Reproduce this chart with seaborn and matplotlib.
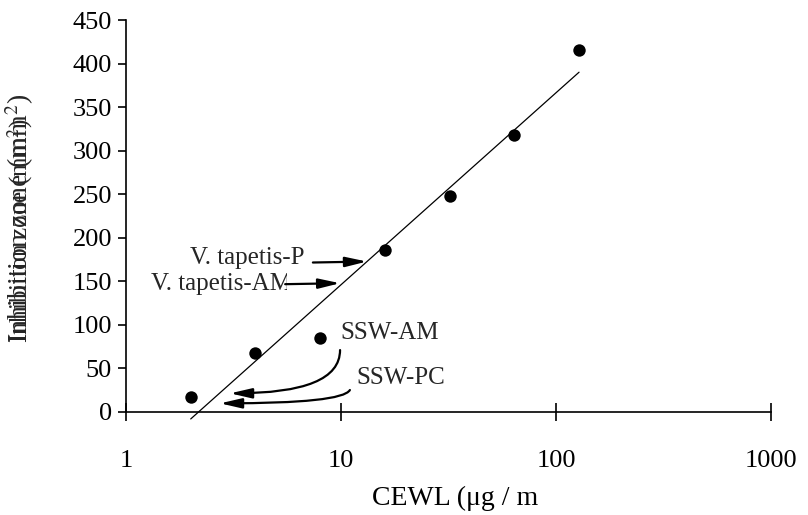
import numpy as np
import matplotlib
matplotlib.use("Agg")
import matplotlib.pyplot as plt
import seaborn as sns
from matplotlib.transforms import Bbox

# data
cewl = [2, 4, 8, 16, 32, 64, 128]
zone = [17, 67, 85, 186, 248, 318, 415]
x_ticks = [1, 10, 100, 1000]
y_ticks = [0, 50, 100, 150, 200, 250, 300, 350, 400, 450]

sns.set_style("ticks")
plt.rcParams['font.family'] = ['Liberation Serif', 'DejaVu Serif']
plt.rcParams['mathtext.fontset'] = 'stix'

fig = plt.figure(figsize=(8.08, 5.15), dpi=100)
ax = fig.add_axes([126/808, (515-411.7)/515, (771-126)/808, (411.7-20)/515])
ax.set_xscale('log')

sns.regplot(x=cewl, y=zone, logx=True, ci=None, ax=ax,
            scatter_kws={'s': 80, 'color': 'black', 'alpha': 1, 'linewidths': 0,
                         'clip_on': False, 'zorder': 3},
            line_kws={'color': 'black', 'lw': 0.9, 'clip_on': False})

ax.set_xlim(1, 1000)
ax.set_ylim(0, 450)
ax.set_xticks(x_ticks)
ax.set_xticklabels([str(t) for t in x_ticks])
ax.xaxis.set_minor_locator(matplotlib.ticker.NullLocator())
ax.set_yticks(y_ticks)
ax.set_yticklabels([str(t) for t in y_ticks])

for s in ['top', 'right']:
    ax.spines[s].set_visible(False)
for s in ['left', 'bottom']:
    ax.spines[s].set_color('black')
    ax.spines[s].set_linewidth(1.2)

ax.tick_params(axis='x', direction='inout', length=13, width=1.2, pad=21, labelsize=19, colors='black')
ax.tick_params(axis='y', direction='out', length=6, width=1.2, pad=4, labelsize=19, colors='black')

ax.set_xlabel("CEWL (μg / m", fontsize=20, color='black')
ax.xaxis.set_label_coords(0.51, -0.19)
ax.set_ylabel("")

# overlapping y label, as in the original
fig.text(20/808, (515-343)/515, "Inhibition zone (mm$^2$)", rotation=90,
         ha='center', va='bottom', fontsize=20)
fig.text(20/808, (515-343)/515, "Inhibition zone (mm$^2$)", rotation=90,
         ha='center', va='bottom', fontsize=18)

arrow = dict(arrowstyle='-|>,head_length=1.3,head_width=0.3', color='black',
             lw=1.6, shrinkA=0, shrinkB=0, mutation_scale=10)

# V. tapetis labels
ax.text(6.8, 177, "V. tapetis-P", ha='right', va='center', fontsize=18)
ax.annotate('', xy=(13.2, 172.5), xytext=(7.4, 171.4), arrowprops=arrow)
t = ax.text(5.9, 147, "V. tapetis-AM", ha='right', va='center', fontsize=18)
t.set_clip_box(Bbox.from_extents(0, 0, 287, 515))
t.set_clip_on(True)
ax.annotate('', xy=(9.9, 147.6), xytext=(5.5, 146.5), arrowprops=arrow)

# SSW labels
ax.text(9.95, 90, "SSW-AM", ha='left', va='center', fontsize=18)
ax.text(11.8, 38.5, "SSW-PC", ha='left', va='center', fontsize=18)
ax.annotate('', xy=(3.05, 21.1), xytext=(9.9, 70.8),
            arrowprops=dict(arrow, connectionstyle='angle3,angleA=90,angleB=0'))
ax.annotate('', xy=(2.74, 9.6), xytext=(11.0, 24.9),
            arrowprops=dict(arrow, connectionstyle='angle3,angleA=60,angleB=0'))

fig.savefig("out.png", dpi=100)
